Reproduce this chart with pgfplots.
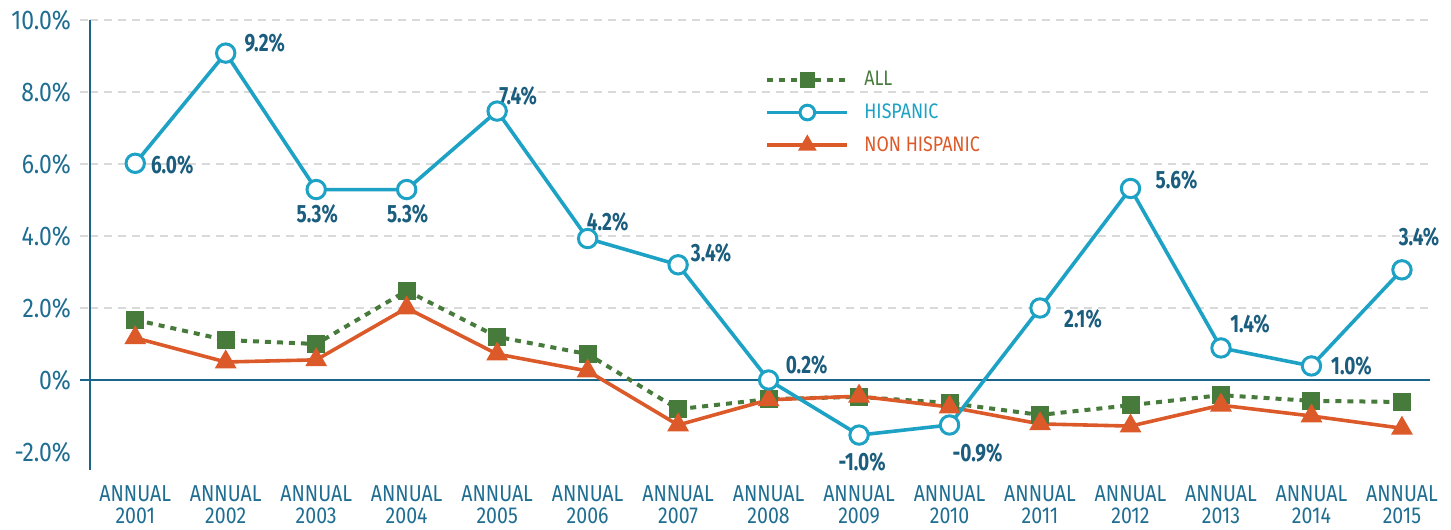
\documentclass[border=0pt]{standalone}
\usepackage{fontspec}
\setmainfont{Fira Sans}[FakeStretch=0.85]
\newfontfamily\lblfont{Fira Sans}[FakeStretch=0.76]
\usepackage{pgfplots}
\pgfplotsset{compat=1.18}
\usetikzlibrary{calc}
\definecolor{hisp}{HTML}{1DA2C5}
\definecolor{allc}{HTML}{477B3C}
\definecolor{nonh}{HTML}{DC5A29}
\definecolor{axtxt}{HTML}{1F6E92}
\definecolor{lbltxt}{HTML}{1A5D7E}
\definecolor{axline}{HTML}{1A668A}
\definecolor{gridc}{HTML}{D9D9D9}
\newcommand{\lbl}[5]{\node[font=\lblfont\bfseries\fontsize{12.5}{14}\selectfont, text=lbltxt, xshift=#3pt, yshift=#4pt] at (axis cs:#1,#2) {#5};}
\begin{document}
\begin{tikzpicture}
\begin{axis}[
 scale only axis, width=670pt, height=225pt,
 xmin=-0.5, xmax=14.31, ymin=-2.5, ymax=10,
 axis y line*=left, axis x line*=bottom,
 x axis line style={draw=none},
 y axis line style={draw=axline, line width=1.4pt},
 xtick={0,...,14},
 xticklabels={ANNUAL\\2001,ANNUAL\\2002,ANNUAL\\2003,ANNUAL\\2004,ANNUAL\\2005,ANNUAL\\2006,ANNUAL\\2007,ANNUAL\\2008,ANNUAL\\2009,ANNUAL\\2010,ANNUAL\\2011,ANNUAL\\2012,ANNUAL\\2013,ANNUAL\\2014,ANNUAL\\2015},
 xtick style={draw=none},
 xticklabel style={align=center, font=\fontsize{11.5}{11}\selectfont, text=axtxt, yshift=-0.5pt, inner sep=2pt},
 ytick={2,4,6,8,10},
 yticklabels={2.0\%,4.0\%,6.0\%,8.0\%,10.0\%},
 extra y ticks={-2,0},
 extra y tick labels={-2.0\%,0\%},
 extra y tick style={grid=none, tick style={draw=none}},
 ymajorgrids,
 major grid style={gridc, line width=0.8pt, dash pattern=on 4pt off 3pt},
 ytick style={gridc, line width=0.8pt, dash pattern=on 4pt off 3pt},
 tick align=outside, major tick length=5pt,
 yticklabel style={font=\fontsize{13.5}{15}\selectfont, text=axtxt, xshift=-1pt},
 legend style={at={(0.5037,0.896)}, anchor=north west, draw=none, fill=none, inner sep=0pt, row sep=3.5pt, font=\fontsize{10.5}{12}\selectfont, /tikz/every odd column/.append style={column sep=5.5pt}},
 legend cell align=left,
 legend image code/.code={\draw[mark repeat=2,mark phase=2,#1,every mark/.append style={scale=0.8}] plot coordinates {(0pt,0pt)(20pt,0pt)(40pt,0pt)};},
 clip=false,
]
\coordinate (bl) at (rel axis cs:0,0);
\coordinate (tr) at (rel axis cs:1,1);
\draw[axline, line width=0.6pt] ([xshift=-5pt]axis cs:-0.5,0) -- (axis cs:14.31,0);
\addplot[allc, line width=2pt, dash pattern=on 3pt off 3pt, mark=square*, mark size=3.5pt, mark options={solid, fill=allc}] coordinates {
(0,1.67)(1,1.11)(2,1.0)(3,2.48)(4,1.2)(5,0.72)(6,-0.81)(7,-0.53)(8,-0.47)(9,-0.64)(10,-0.97)(11,-0.70)(12,-0.42)(13,-0.58)(14,-0.61)};
\addlegendentry{\textcolor{allc}{ALL}}
\addlegendimage{hisp, line width=1.8pt, mark=*, mark size=4.6pt, mark options={fill=white, line width=1.5pt}}
\addlegendentry{\textcolor{hisp}{HISPANIC}}
\addplot[nonh, line width=1.8pt, mark=triangle*, mark size=4.5pt, mark options={fill=nonh}] coordinates {
(0,1.17)(1,0.5)(2,0.56)(3,2.0)(4,0.72)(5,0.25)(6,-1.25)(7,-0.55)(8,-0.45)(9,-0.75)(10,-1.22)(11,-1.28)(12,-0.70)(13,-1.0)(14,-1.34)};
\addlegendentry{\textcolor{nonh}{NON HISPANIC}}
\addplot[hisp, line width=1.8pt, mark=*, mark size=4.6pt, mark options={fill=white, line width=1.5pt}, forget plot] coordinates {
(0,6.02)(1,9.08)(2,5.29)(3,5.29)(4,7.47)(5,3.93)(6,3.20)(7,0.0)(8,-1.53)(9,-1.25)(10,2.0)(11,5.32)(12,0.89)(13,0.39)(14,3.06)};
\lbl{0}{6.02}{18.5}{-1}{6.0\%}
\lbl{1}{9.08}{19.5}{5}{9.2\%}
\lbl{2}{5.29}{0.5}{-12}{5.3\%}
\lbl{3}{5.29}{0.5}{-12}{5.3\%}
\lbl{4}{7.47}{10.5}{7.5}{7.4\%}
\lbl{5}{3.93}{10}{8.5}{4.2\%}
\lbl{6}{3.20}{16.5}{6}{3.4\%}
\lbl{7}{0.0}{19}{7.5}{0.2\%}
\lbl{8}{-1.53}{1.5}{-13.5}{-1.0\%}
\lbl{9}{-1.25}{14}{-14}{-0.9\%}
\lbl{10}{2.0}{21.5}{-5.5}{2.1\%}
\lbl{11}{5.32}{23}{4}{5.6\%}
\lbl{12}{0.89}{14.5}{12}{1.4\%}
\lbl{13}{0.39}{20}{0}{1.0\%}
\lbl{14}{3.06}{8.5}{16.5}{3.4\%}
\end{axis}
\pgfresetboundingbox
\path ($(bl)+(-45pt,-30pt)$) rectangle ($(tr)+(10.5pt,10pt)$);
\end{tikzpicture}
\end{document}
